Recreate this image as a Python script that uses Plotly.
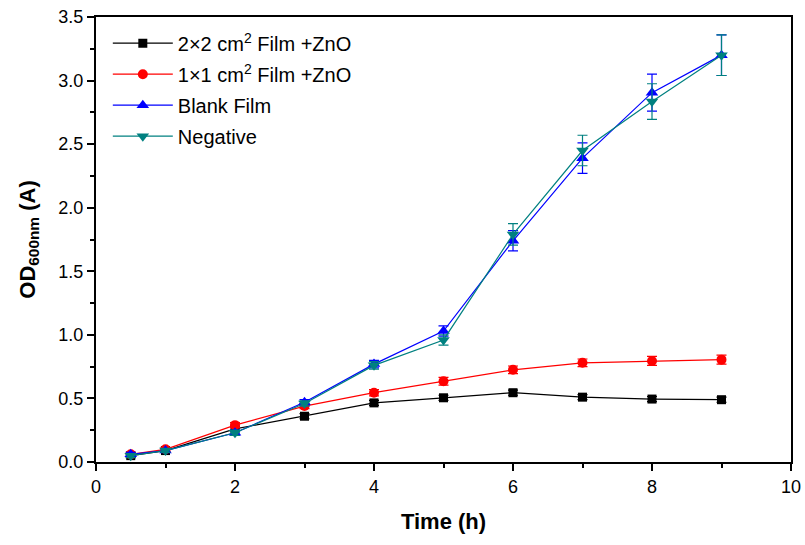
import plotly.graph_objects as go

time = [0.5, 1, 2, 3, 4, 5, 6, 7, 8, 9]

film2x2 = [0.05, 0.09, 0.26, 0.36, 0.465, 0.505, 0.545, 0.51, 0.495, 0.49]
film2x2_err = [0.015, 0.015, 0.015, 0.02, 0.02, 0.02, 0.02, 0.02, 0.02, 0.02]

film1x1 = [0.06, 0.10, 0.29, 0.44, 0.545, 0.635, 0.725, 0.78, 0.795, 0.805]
film1x1_err = [0.015, 0.015, 0.02, 0.02, 0.025, 0.03, 0.03, 0.03, 0.035, 0.035]

blank = [0.06, 0.09, 0.23, 0.47, 0.77, 1.03, 1.74, 2.39, 2.905, 3.20]
blank_err = [0.015, 0.015, 0.02, 0.02, 0.03, 0.04, 0.08, 0.12, 0.145, 0.16]

negative = [0.05, 0.09, 0.23, 0.46, 0.76, 0.96, 1.79, 2.45, 2.835, 3.20]
negative_err = [0.015, 0.015, 0.02, 0.02, 0.03, 0.04, 0.085, 0.12, 0.14, 0.16]

names = ["2×2 cm<sup>2</sup> Film +ZnO", "1×1 cm<sup>2</sup> Film +ZnO", "Blank Film", "Negative"]
colors = ["#000000", "#ff0000", "#0000ff", "#008080"]
symbols = ["square", "circle", "triangle-up", "triangle-down"]
sizes = [9, 10, 11, 11]

fig = go.Figure()
for i, (y, e) in enumerate([(film2x2, film2x2_err), (film1x1, film1x1_err),
                            (blank, blank_err), (negative, negative_err)]):
    fig.add_trace(go.Scatter(
        x=time, y=y, name=names[i], mode="lines+markers",
        line=dict(color=colors[i], width=1.2),
        marker=dict(symbol=symbols[i], size=sizes[i], color=colors[i]),
        error_y=dict(type="data", array=e, visible=True, color=colors[i], thickness=1.2, width=5),
        legendgroup=f"g{i}",
    ))

axis_common = dict(
    showline=True, linecolor="black", linewidth=2, mirror=True,
    ticks="outside", ticklen=7, tickwidth=2, tickcolor="black",
    showgrid=False, zeroline=False, automargin=False,
    tickfont=dict(size=18),
)

fig.update_layout(
    width=805, height=545,
    margin=dict(l=96, r=14, t=17, b=83, autoexpand=False),
    plot_bgcolor="white", paper_bgcolor="white",
    font=dict(family="Liberation Sans, Arial, sans-serif", size=18, color="black"),
    xaxis=dict(range=[0, 10], dtick=2, tick0=0,
               minor=dict(dtick=1, ticks="outside", ticklen=4, tickwidth=2, tickcolor="black"),
               title=dict(text="<b>Time (h)</b>", font=dict(size=22), standoff=18),
               **axis_common),
    yaxis=dict(range=[0, 3.5], dtick=0.5, tick0=0, tickformat=".1f",
               minor=dict(dtick=0.25, ticks="outside", ticklen=4, tickwidth=2, tickcolor="black"),
               title=dict(text="<b>OD<sub>600nm</sub> (A)</b>", font=dict(size=22), standoff=17),
               **axis_common),
    legend=dict(x=0.017, y=0.985, xanchor="left", yanchor="top",
                bgcolor="rgba(0,0,0,0)", font=dict(size=20),
                tracegroupgap=2, itemwidth=60),
    showlegend=True,
)

fig.write_html("out.html")
